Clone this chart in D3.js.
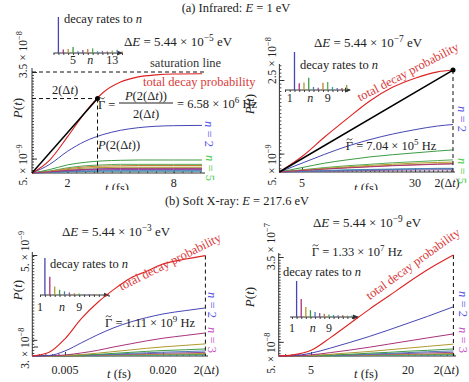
<!DOCTYPE html>
<html>
<head>
<meta charset="utf-8">
<script src="https://cdn.jsdelivr.net/npm/d3@7"></script>
<style>
body { margin: 0; background: #fff; }
text { font-family: "Liberation Serif", "DejaVu Serif", serif; }
</style>
</head>
<body>
<div id="chart"></div>
<script>
// colours of the final states n = 2, 3, 4, ...
var nColors = ["#4646b4", "#a8337a", "#b09a2e", "#3e9b45", "#4f78b8", "#8a52a0", "#c27c36",
               "#55aa55", "#3b9aa6", "#7070b8", "#a24c5e", "#8ca23f", "#5590c2", "#9e6442"];
var totalColor = "#dd2222";

// ---- (a) Infrared, dE = 5.44e-5 eV  (P in units of 1e-8)
var tA = [0, 1, 2, 3, 4, 5, 6, 7, 8, 9.6];
var totalA = [0, 0.45, 1.25, 2.1, 2.78, 3.15, 3.33, 3.4, 3.43, 3.44];
var curvesA = [
  [0, 0.3, 0.75, 1.1, 1.33, 1.48, 1.57, 1.62, 1.64, 1.65],
  [0, 0.04, 0.09, 0.12, 0.14, 0.15, 0.15, 0.15, 0.15, 0.15],
  [0, 0.05, 0.12, 0.17, 0.19, 0.2, 0.2, 0.2, 0.2, 0.2],
  [0, 0.12, 0.28, 0.37, 0.42, 0.44, 0.45, 0.45, 0.45, 0.45],
  [0, 0.02, 0.05, 0.07, 0.08, 0.08, 0.08, 0.08, 0.08, 0.08],
  [0, 0.03, 0.07, 0.1, 0.11, 0.12, 0.12, 0.12, 0.12, 0.12],
  [0, 0.06, 0.15, 0.21, 0.24, 0.25, 0.26, 0.26, 0.26, 0.26],
  [0, 0.07, 0.18, 0.25, 0.28, 0.3, 0.3, 0.3, 0.3, 0.3],
  [0, 0.02, 0.04, 0.05, 0.06, 0.06, 0.06, 0.06, 0.06, 0.06],
  [0, 0.04, 0.09, 0.13, 0.15, 0.16, 0.17, 0.17, 0.17, 0.17]
];
var satA = 3.5;
var dotA = [3.7, 2.58];
var ratesA = [1, 0.1, 0.11, 0.17, 0.05, 0.08, 0.11, 0.13, 0.05, 0.06, 0.04, 0.07, 0.09, 0.04];

// ---- (a) dE = 5.44e-7 eV  (units of 1e-8)
var tB = [0, 5, 10, 15, 20, 25, 30, 35, 38.4];
var totalB = [0, 0.42, 0.95, 1.45, 1.93, 2.3, 2.55, 2.72, 2.77];
var curvesB = [
  [0, 0.24, 0.48, 0.7, 0.88, 1.03, 1.15, 1.25, 1.29],
  [0, 0.04, 0.08, 0.11, 0.14, 0.17, 0.19, 0.21, 0.22],
  [0, 0.05, 0.1, 0.14, 0.18, 0.21, 0.24, 0.26, 0.27],
  [0, 0.12, 0.24, 0.33, 0.41, 0.47, 0.52, 0.57, 0.6],
  [0, 0.015, 0.03, 0.045, 0.06, 0.07, 0.08, 0.09, 0.09],
  [0, 0.01, 0.02, 0.03, 0.04, 0.05, 0.055, 0.06, 0.06],
  [0, 0.04, 0.08, 0.12, 0.15, 0.18, 0.2, 0.22, 0.23],
  [0, 0.06, 0.12, 0.17, 0.21, 0.25, 0.28, 0.31, 0.33],
  [0, 0.02, 0.04, 0.06, 0.07, 0.08, 0.09, 0.1, 0.1]
];
var dotB = [38.4, 2.77];
var ratesB = [1, 0.18, 0.2, 0.32, 0.08, 0.06, 0.19, 0.21, 0.08, 0.05, 0.05, 0.13];

// ---- (b) Soft X-ray, dE = 5.44e-3 eV  (units of 1e-9)
var tC = [0, 0.0025, 0.005, 0.0075, 0.01, 0.0125, 0.015, 0.0175, 0.02, 0.0235, 0.0265];
var totalC = [0, 0.17, 0.85, 1.85, 2.65, 3.3, 3.85, 4.2, 4.55, 4.8, 4.97];
var curvesC = [
  [0, 0.02, 0.25, 0.65, 1.05, 1.4, 1.68, 1.9, 2.08, 2.25, 2.38],
  [0, 0.01, 0.05, 0.15, 0.28, 0.45, 0.6, 0.75, 0.88, 1.02, 1.14],
  [0, 0, 0.02, 0.07, 0.14, 0.22, 0.3, 0.38, 0.45, 0.53, 0.6],
  [0, 0, 0.01, 0.04, 0.08, 0.13, 0.18, 0.23, 0.27, 0.31, 0.35],
  [0, 0, 0.01, 0.03, 0.06, 0.09, 0.13, 0.16, 0.19, 0.22, 0.25],
  [0, 0, 0.01, 0.02, 0.04, 0.07, 0.09, 0.12, 0.14, 0.16, 0.18],
  [0, 0, 0, 0.01, 0.03, 0.05, 0.06, 0.08, 0.09, 0.11, 0.12],
  [0, 0, 0, 0.01, 0.02, 0.03, 0.04, 0.05, 0.06, 0.07, 0.08],
  [0, 0, 0, 0.01, 0.01, 0.02, 0.03, 0.03, 0.04, 0.05, 0.05]
];
var ratesC = [1, 0.49, 0.23, 0.14, 0.1, 0.07, 0.05, 0.04, 0.03, 0.03, 0.02, 0.02, 0.02];

// ---- (b) dE = 5.44e-9 eV  (units of 1e-7)
var tD = [0, 2, 5, 8, 11, 14, 17, 20, 23, 27];
var totalD = [0, 0.03, 0.2, 0.65, 1.15, 1.65, 2.12, 2.6, 3.05, 3.57];
var curvesD = [
  [0, 0.01, 0.1, 0.28, 0.48, 0.69, 0.92, 1.16, 1.4, 1.74],
  [0, 0, 0.04, 0.12, 0.21, 0.31, 0.42, 0.53, 0.64, 0.78],
  [0, 0, 0.02, 0.06, 0.11, 0.16, 0.22, 0.28, 0.34, 0.42],
  [0, 0, 0.01, 0.03, 0.06, 0.1, 0.13, 0.17, 0.2, 0.25],
  [0, 0, 0.01, 0.02, 0.04, 0.07, 0.09, 0.12, 0.15, 0.18],
  [0, 0, 0, 0.02, 0.03, 0.05, 0.07, 0.09, 0.11, 0.13],
  [0, 0, 0, 0.01, 0.02, 0.03, 0.05, 0.06, 0.07, 0.09],
  [0, 0, 0, 0.01, 0.01, 0.02, 0.03, 0.04, 0.05, 0.06],
  [0, 0, 0, 0, 0.01, 0.01, 0.02, 0.03, 0.03, 0.04]
];
var ratesD = [1, 0.5, 0.28, 0.19, 0.14, 0.11, 0.09, 0.07, 0.06, 0.05, 0.05, 0.04, 0.04];

// tick values / labels
var xTicksA = [2, 8], xLabelsA = ["2", "8"];
var yTicksA = [0.5, 3.5], yLabelsA = [["5.", "−9"], ["3.5", "−8"]];
var xTicksB = [5, 30], xLabelsB = ["5", "30"];
var yTicksB = [0.5, 2.5], yLabelsB = [["5.", "−9"], ["2.5", "−8"]];
var xTicksC = [0.005, 0.020], xLabelsC = ["0.005", "0.020"];
var yTicksC = [0.8, 5], yLabelsC = [["3.", "−8"], ["5.", "−9"]];
var xTicksD = [5, 20], xLabelsD = ["5", "20"];
var yTicksD = [0.5, 3.5], yLabelsD = [["5.", "−8"], ["3.5", "−7"]];

var W = 469, H = 382;

var svg = d3.select("#chart").append("svg")
  .attr("width", W).attr("height", H);

var defs = svg.append("defs");
defs.append("clipPath").attr("id", "topclip")
  .append("rect").attr("x", 0).attr("y", 0).attr("width", W).attr("height", 190);
defs.append("marker").attr("id", "arrow")
  .attr("viewBox", "0 0 6 6").attr("refX", 5).attr("refY", 3)
  .attr("markerWidth", 6).attr("markerHeight", 6).attr("orient", "auto")
  .append("path").attr("d", "M0,0.5 L6,3 L0,5.5 Z").attr("fill", "#333");

var gTop = svg.append("g").attr("clip-path", "url(#topclip)");
var gBottom = svg.append("g");

// text with italic parts, superscripts and a tilde accent:
// parts = ["plain", ["x","i"], ["-5","s"], ["Γ","g"]]
function mathText(parent, x, y, parts, o) {
  o = o || {};
  var size = o.size || 12;
  var t = parent.append("text")
    .attr("x", x).attr("y", y)
    .attr("font-size", size)
    .attr("text-anchor", o.anchor || "start")
    .attr("fill", o.color || "#222");
  if (o.baseline) t.attr("dominant-baseline", o.baseline);
  if (o.rotate) t.attr("transform", "rotate(" + o.rotate + "," + x + "," + y + ")");
  var shift = 0, idx = 0, tildeIdx = -1;
  parts.forEach(function(p) {
    var s = typeof p === "string" ? p : p[0];
    var st = typeof p === "string" ? "" : p[1];
    var ts = t.append("tspan").text(s);
    if (st.indexOf("i") >= 0) ts.attr("font-style", "italic");
    if (st.indexOf("g") >= 0) tildeIdx = idx;
    var target = st.indexOf("s") >= 0 ? -size * 0.42 : 0;
    if (target != shift) { ts.attr("dy", target - shift); shift = target; }
    if (st.indexOf("s") >= 0) ts.attr("font-size", size * 0.72);
    idx += s.length;
  });
  if (tildeIdx >= 0) {
    var ext = t.node().getExtentOfChar(tildeIdx);
    var cx = ext.x + ext.width / 2, cy = y - size * 0.68 - 2.2;
    parent.append("path")
      .attr("d", "M" + (cx - 3) + "," + (cy + 0.7) + " Q" + (cx - 1.5) + "," + (cy - 1.6) + " " + cx + "," + cy +
        " T" + (cx + 3) + "," + (cy - 0.7))
      .attr("fill", "none").attr("stroke", o.color || "#222").attr("stroke-width", 0.8);
  }
  return t;
}

var dtParts = ["2(Δ", ["t", "i"], ")"];

function drawPanel(g, p) {
  var x = d3.scaleLinear().domain(p.xDomain).range(p.xRange);
  var y = d3.scaleLinear().domain(p.yDomain).range(p.yRange);
  var x0 = x(0), y0 = y(0);

  // ticks
  g.append("g").attr("transform", "translate(0," + y0 + ")")
    .call(d3.axisBottom(x).tickValues(p.xMinor).tickSize(-2).tickSizeOuter(0).tickFormat(""))
    .call(function(a) { a.select(".domain").remove(); a.selectAll("line").attr("stroke", "#444"); });
  g.append("g").attr("transform", "translate(0," + y0 + ")")
    .call(d3.axisBottom(x).tickValues(p.xTicks).tickSize(-4).tickSizeOuter(0).tickFormat(""))
    .call(function(a) { a.select(".domain").remove(); a.selectAll("line").attr("stroke", "#333"); });
  g.append("g").attr("transform", "translate(" + x0 + ",0)")
    .call(d3.axisLeft(y).tickValues(p.yMinor).tickSize(-2).tickSizeOuter(0).tickFormat(""))
    .call(function(a) { a.select(".domain").remove(); a.selectAll("line").attr("stroke", "#444"); });
  g.append("g").attr("transform", "translate(" + x0 + ",0)")
    .call(d3.axisLeft(y).tickValues(p.yTicks).tickSize(-5).tickSizeOuter(0).tickFormat(""))
    .call(function(a) { a.select(".domain").remove(); a.selectAll("line").attr("stroke", "#333"); });

  // axis lines
  g.append("line").attr("x1", x0).attr("x2", p.xAxisEnd).attr("y1", y0).attr("y2", y0)
    .attr("stroke", "#333").attr("stroke-width", 1);
  g.append("line").attr("x1", x0).attr("x2", x0).attr("y1", y0).attr("y2", p.yAxisTop)
    .attr("stroke", "#333").attr("stroke-width", 1);

  // tick labels
  p.xTicks.forEach(function(v, i) {
    mathText(g, x(v), p.xLabelY, [p.xLabels[i]], { anchor: "middle", size: 12 });
  });
  p.yTicks.forEach(function(v, i) {
    var l = p.yLabels[i];
    mathText(g, p.yLabelX, y(v) + p.yLabelShift[i], [l[0] + " × 10", [l[1], "s"]],
      { anchor: "start", size: 11.5, rotate: -90 });
  });

  // curves
  var line = d3.line()
    .x(function(d, i) { return x(p.t[i]); })
    .y(function(d) { return y(d); })
    .curve(d3.curveMonotoneX);
  var order = d3.range(p.curves.length).reverse();
  g.append("g").selectAll("path").data(order).join("path")
    .attr("d", function(k) { return line(p.curves[k]); })
    .attr("fill", "none")
    .attr("stroke", function(k) { return nColors[k % nColors.length]; })
    .attr("stroke-width", 1);

  p.x = x; p.y = y;
  return { x: x, y: y, line: line };
}

function drawTotal(g, p, s) {
  g.append("path").attr("d", s.line(p.total))
    .attr("fill", "none").attr("stroke", totalColor).attr("stroke-width", 1.1);
}

function drawInset(g, ins, rates) {
  var nx = d3.scaleLinear().domain(ins.nDomain).range(ins.xRange);
  var hy = d3.scaleLinear().domain([0, 1]).range([ins.base, ins.base - ins.h]);
  g.append("g").attr("transform", "translate(0," + ins.base + ")")
    .call(d3.axisBottom(nx).tickValues(d3.range(Math.ceil(ins.nDomain[0]), Math.floor(ins.nDomain[1]) + 1))
      .tickSize(2).tickSizeOuter(0).tickFormat(""))
    .call(function(a) { a.select(".domain").remove(); a.selectAll("line").attr("stroke", "#444"); });
  g.append("line").attr("x1", ins.xRange[0]).attr("x2", ins.xRange[1])
    .attr("y1", ins.base).attr("y2", ins.base)
    .attr("stroke", "#333").attr("marker-end", "url(#arrow)");
  g.selectAll(null).data(rates).join("line")
    .attr("x1", function(d, i) { return nx(i + 2); })
    .attr("x2", function(d, i) { return nx(i + 2); })
    .attr("y1", ins.base)
    .attr("y2", function(d) { return hy(d); })
    .attr("stroke", function(d, i) { return nColors[i % nColors.length]; })
    .attr("stroke-width", 1.3);
  ins.labels.forEach(function(l) {
    mathText(g, nx(l[0]), ins.labelY, [l[2] ? [l[1], "i"] : l[1]], { anchor: "middle", size: 12 });
  });
  mathText(g, ins.textX, ins.textY, ["decay rates to ", ["n", "i"]], { size: 12.5 });
}

function dashed(g, x1, y1, x2, y2) {
  g.append("line").attr("x1", x1).attr("y1", y1).attr("x2", x2).attr("y2", y2)
    .attr("stroke", "#111").attr("stroke-width", 1).attr("stroke-dasharray", "4,3");
}

// ================= titles
mathText(gTop, 236, 12, ["(a) Infrared: ", ["E", "i"], " = 1 eV"], { anchor: "middle", size: 12.5 });
mathText(gBottom, 237, 205, ["(b) Soft X-ray: ", ["E", "i"], " = 217.6 eV"], { anchor: "middle", size: 12.5 });

// ================= panel A
var pA = {
  t: tA, total: totalA, curves: curvesA,
  xDomain: [0, 9.6], xRange: [32, 202], yDomain: [0, 3.5], yRange: [173, 72],
  xAxisEnd: 205, yAxisTop: 68,
  xMinor: d3.range(0.5, 9.6, 0.5), xTicks: xTicksA, xLabels: xLabelsA, xLabelY: 187,
  yMinor: d3.range(0.1, 3.55, 0.1), yTicks: yTicksA, yLabels: yLabelsA,
  yLabelX: 27, yLabelShift: [27, 6]
};
var gA = gTop.append("g");
drawInset(gA, { nDomain: [1, 15], xRange: [53.5, 122], base: 53, h: 36, labelY: 64,
  labels: [[5, "5"], [8.5, "n", true], [13, "13"]], textX: 64, textY: 23 }, ratesA);
var sA = drawPanel(gA, pA);
dashed(gA, pA.x(0), pA.y(satA), 207, pA.y(satA));
dashed(gA, pA.x(0), pA.y(dotA[1]), pA.x(dotA[0]), pA.y(dotA[1]));
dashed(gA, pA.x(dotA[0]), pA.y(dotA[1]), pA.x(dotA[0]), pA.y(0));
drawTotal(gA, pA, sA);
gA.append("line").attr("x1", pA.x(0)).attr("y1", pA.y(0)).attr("x2", pA.x(dotA[0])).attr("y2", pA.y(dotA[1]))
  .attr("stroke", "#000").attr("stroke-width", 1.5);
gA.append("circle").attr("cx", pA.x(dotA[0])).attr("cy", pA.y(dotA[1])).attr("r", 2.5).attr("fill", "#000");

mathText(gA, 178, 46, ["Δ", ["E", "i"], " = 5.44 × 10", ["−5", "s"], " eV"], { anchor: "middle", size: 13 });
mathText(gA, 150, 67, ["saturation line"], { size: 12.5, color: "#333" });
mathText(gA, 143, 86, ["total decay probability"], { size: 12.5, color: "#d93a3a" });
mathText(gA, 65, 94, dtParts, { anchor: "middle", size: 12.5 });
mathText(gA, 98, 109, [["Γ", "g"], " ="], { size: 12.5 });
mathText(gA, 146, 99.5, [["P", "i"], "(2(Δ", ["t", "i"], "))"], { anchor: "middle", size: 12.5 });
gA.append("line").attr("x1", 119).attr("x2", 173).attr("y1", 103).attr("y2", 103).attr("stroke", "#222");
mathText(gA, 146, 118, dtParts, { anchor: "middle", size: 12.5 });
mathText(gA, 177, 108, ["= 6.58 × 10", ["6", "s"], " Hz"], { size: 12.5 });
mathText(gA, 98, 149, [["P", "i"], "(2(Δ", ["t", "i"], "))"], { size: 12.5 });
mathText(gA, 22, 108, [["P", "i"], "(", ["t", "i"], ")"], { anchor: "middle", size: 13, rotate: -90 });
mathText(gA, 117, 192, [["t", "i"], " (fs)"], { anchor: "middle", size: 12.5 });
mathText(gA, 205, 134, [["n", "i"], " = 2"], { anchor: "middle", size: 12.5, rotate: 90, color: "#5555e8" });
mathText(gA, 206, 168, [["n", "i"], " = 5"], { anchor: "middle", size: 12.5, rotate: 90, color: "#44cc44" });

// ================= panel B
var pB = {
  t: tB, total: totalB, curves: curvesB,
  xDomain: [0, 38.4], xRange: [279.4, 453], yDomain: [0, 2.5], yRange: [172, 80],
  xAxisEnd: 455, yAxisTop: 64,
  xMinor: d3.range(1, 38.5, 1), xTicks: xTicksB, xLabels: xLabelsB, xLabelY: 187,
  yMinor: d3.range(0.1, 2.95, 0.1), yTicks: yTicksB, yLabels: yLabelsB,
  yLabelX: 276, yLabelShift: [32, 4]
};
var gB = gTop.append("g");
drawInset(gB, { nDomain: [0, 13.7], xRange: [285, 350], base: 90, h: 38, labelY: 102,
  labels: [[1, "1"], [5.3, "n", true], [9, "9"]], textX: 300, textY: 69 }, ratesB);
var sB = drawPanel(gB, pB);
dashed(gB, pB.x(dotB[0]), pB.y(dotB[1]), pB.x(dotB[0]), pB.y(0));
drawTotal(gB, pB, sB);
gB.append("line").attr("x1", pB.x(0)).attr("y1", pB.y(0)).attr("x2", pB.x(dotB[0])).attr("y2", pB.y(dotB[1]))
  .attr("stroke", "#000").attr("stroke-width", 1.5);
gB.append("circle").attr("cx", pB.x(dotB[0])).attr("cy", pB.y(dotB[1])).attr("r", 2.5).attr("fill", "#000");
mathText(gB, pB.x(dotB[0]) - 6, 187, dtParts, { anchor: "middle", size: 12 });

mathText(gB, 368, 47, ["Δ", ["E", "i"], " = 5.44 × 10", ["−7", "s"], " eV"], { anchor: "middle", size: 13 });
mathText(gB, 391, 150, [["Γ", "g"], " = 7.04 × 10", ["5", "s"], " Hz"], { anchor: "middle", size: 12.5 });
mathText(gB, 408, 72, ["total decay probability"], { anchor: "middle", size: 12.5, color: "#d93a3a", rotate: -27.6, baseline: "central" });
mathText(gB, 254, 104, [["P", "i"], "(", ["t", "i"], ")"], { anchor: "middle", size: 13, rotate: -90 });
mathText(gB, 366, 192, [["t", "i"], " (fs)"], { anchor: "middle", size: 12.5 });
mathText(gB, 458, 119, [["n", "i"], " = 2"], { anchor: "middle", size: 12.5, rotate: 90, color: "#5555e8" });
mathText(gB, 458, 171, [["n", "i"], " = 5"], { anchor: "middle", size: 12.5, rotate: 90, color: "#44cc44" });

// ================= panel C
var pC = {
  t: tC, total: totalC, curves: curvesC,
  xDomain: [0, 0.0265], xRange: [32.3, 205.4], yDomain: [0, 5], yRange: [356, 255],
  xAxisEnd: 208, yAxisTop: 252,
  xMinor: d3.range(0.001, 0.0265, 0.001), xTicks: xTicksC, xLabels: xLabelsC, xLabelY: 374,
  yMinor: d3.range(0.15, 5.1, 0.15), yTicks: yTicksC, yLabels: yLabelsC,
  yLabelX: 29, yLabelShift: [29, 17]
};
var gC = gBottom.append("g");
drawInset(gC, { nDomain: [1, 15], xRange: [40, 108.6], base: 295, h: 37, labelY: 311,
  labels: [[1, "1"], [5.5, "n", true], [9, "9"]], textX: 50, textY: 268 }, ratesC);
var sC = drawPanel(gC, pC);
var endC = tC[tC.length - 1];
dashed(gC, pC.x(endC), pC.y(totalC[totalC.length - 1]), pC.x(endC), pC.y(0));
drawTotal(gC, pC, sC);
gC.append("line").attr("x1", 34).attr("x2", 38).attr("y1", 347).attr("y2", 347).attr("stroke", "#333");
mathText(gC, pC.x(endC) + 1, 374, dtParts, { anchor: "middle", size: 12 });

mathText(gC, 116, 236, ["Δ", ["E", "i"], " = 5.44 × 10", ["−3", "s"], " eV"], { anchor: "middle", size: 13 });
mathText(gC, 150, 327, [["Γ", "g"], " = 1.11 × 10", ["9", "s"], " Hz"], { anchor: "middle", size: 12.5 });
mathText(gC, 170, 262, ["total decay probability"], { anchor: "middle", size: 12.5, color: "#d93a3a", rotate: -26.6, baseline: "central" });
mathText(gC, 22, 290, [["P", "i"], "(", ["t", "i"], ")"], { anchor: "middle", size: 13, rotate: -90 });
mathText(gC, 119, 378, [["t", "i"], " (fs)"], { anchor: "middle", size: 12.5 });
mathText(gC, 208, 305, [["n", "i"], " = 2"], { anchor: "middle", size: 12.5, rotate: 90, color: "#5555e8" });
mathText(gC, 208, 340, [["n", "i"], " = 3"], { anchor: "middle", size: 12.5, rotate: 90, color: "#c850c8" });

// ================= panel D
var pD = {
  t: tD, total: totalD, curves: curvesD,
  xDomain: [0, 27], xRange: [278.7, 453.4], yDomain: [0, 3.5], yRange: [356, 257],
  xAxisEnd: 456, yAxisTop: 253,
  xMinor: d3.range(1, 27.5, 1), xTicks: xTicksD, xLabels: xLabelsD, xLabelY: 374,
  yMinor: d3.range(0.1, 3.65, 0.1), yTicks: yTicksD, yLabels: yLabelsD,
  yLabelX: 275, yLabelShift: [32, 13]
};
var gD = gBottom.append("g");
drawInset(gD, { nDomain: [0.57, 15.3], xRange: [290, 358], base: 317, h: 36, labelY: 332,
  labels: [[1, "1"], [5.5, "n", true], [9, "9"]], textX: 283, textY: 276 }, ratesD);
var sD = drawPanel(gD, pD);
var endD = tD[tD.length - 1];
dashed(gD, pD.x(endD), pD.y(totalD[totalD.length - 1]), pD.x(endD), pD.y(0));
drawTotal(gD, pD, sD);
mathText(gD, pD.x(endD) - 7, 374, dtParts, { anchor: "middle", size: 12 });

mathText(gD, 367, 227, ["Δ", ["E", "i"], " = 5.44 × 10", ["−9", "s"], " eV"], { anchor: "middle", size: 13 });
mathText(gD, 357, 256, [["Γ", "g"], " = 1.33 × 10", ["7", "s"], " Hz"], { anchor: "middle", size: 12.5 });
mathText(gD, 413, 264, ["total decay probability"], { anchor: "middle", size: 12.5, color: "#d93a3a", rotate: -35.8, baseline: "central" });
mathText(gD, 254, 297, [["P", "i"], "(", ["t", "i"], ")"], { anchor: "middle", size: 13, rotate: -90 });
mathText(gD, 366, 378, [["t", "i"], " (fs)"], { anchor: "middle", size: 12.5 });
mathText(gD, 459, 304, [["n", "i"], " = 2"], { anchor: "middle", size: 12.5, rotate: 90, color: "#5555e8" });
mathText(gD, 459, 340, [["n", "i"], " = 3"], { anchor: "middle", size: 12.5, rotate: 90, color: "#c850c8" });
</script>
</body>
</html>
